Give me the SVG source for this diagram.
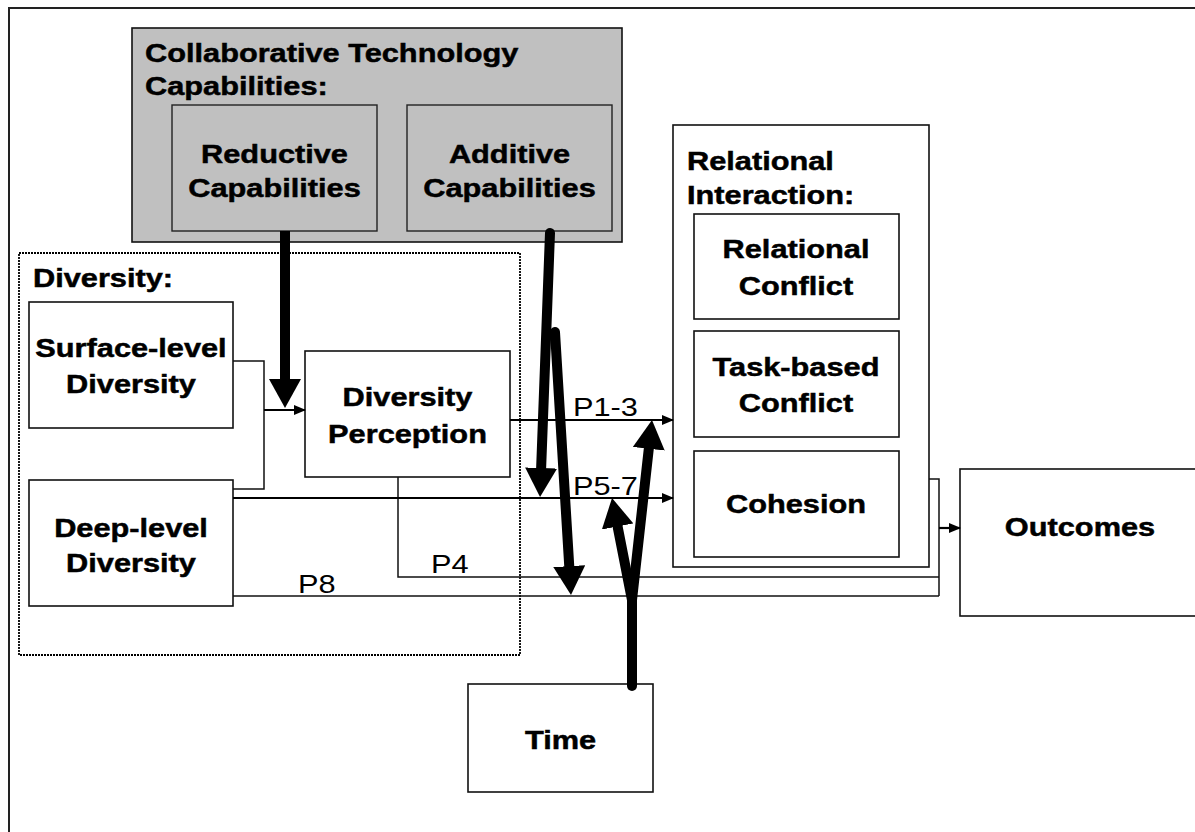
<svg xmlns="http://www.w3.org/2000/svg" width="1195" height="832" viewBox="0 0 1195 832">
  <style>
    .frame { fill: none; stroke: #222; stroke-width: 2; }
    .box { fill: #fff; stroke: #111; stroke-width: 1.6; }
    .gray { fill: #c0c0c0; stroke: #111; stroke-width: 1.6; }
    .inner { fill: #c0c0c0; stroke: #222; stroke-width: 1.4; }
    .group { fill: #fff; stroke: #111; stroke-width: 1.6; }
    .dotted { fill: none; stroke: #000; stroke-width: 1.8; stroke-dasharray: 2 1; }
    .thin { fill: none; stroke: #111; stroke-width: 1.5; }
    .link { fill: none; stroke: #000; stroke-width: 2.2; }
    .heavy { fill: none; stroke: #000; stroke-width: 10; stroke-linecap: round; }
    .b { font-family: "Liberation Sans", Arial, sans-serif; font-weight: bold; font-size: 26.5px; fill: #000; stroke: #000; stroke-width: 0.5; }
    .r { font-family: "Liberation Sans", Arial, sans-serif; font-size: 26.5px; fill: #000; }
  </style>
  <defs>
    <marker id="bigHead" markerUnits="userSpaceOnUse" viewBox="0 0 29 32" markerWidth="29" markerHeight="32" refX="1" refY="16" orient="auto">
      <path d="M0,0 L29,16 L0,32 z" fill="#000"/>
    </marker>
    <marker id="smallHead" markerUnits="userSpaceOnUse" viewBox="0 0 12 10" markerWidth="12" markerHeight="10" refX="11" refY="5" orient="auto">
      <path d="M0,0 L12,5 L0,10 z" fill="#000"/>
    </marker>
  </defs>

  <rect width="1195" height="832" fill="#fff"/>
  <rect class="frame" x="9" y="8" width="1200" height="840"/>

  <!-- technology group -->
  <g id="technology">
    <rect class="gray" x="132" y="28" width="490" height="214"/>
    <text class="b" transform="translate(145,62) scale(1.16,1)">Collaborative Technology</text>
    <text class="b" transform="translate(145,95) scale(1.16,1)">Capabilities:</text>
  </g>
  <g id="reductive">
    <rect class="inner" x="172" y="105" width="205" height="126"/>
    <text class="b" text-anchor="middle" transform="translate(274.5,163) scale(1.16,1)">Reductive</text>
    <text class="b" text-anchor="middle" transform="translate(274.5,197) scale(1.16,1)">Capabilities</text>
  </g>
  <g id="additive">
    <rect class="inner" x="407" y="105" width="205" height="126"/>
    <text class="b" text-anchor="middle" transform="translate(509.5,163) scale(1.16,1)">Additive</text>
    <text class="b" text-anchor="middle" transform="translate(509.5,197) scale(1.16,1)">Capabilities</text>
  </g>

  <!-- diversity group -->
  <g id="diversity">
    <rect class="dotted" x="19" y="253" width="501" height="402"/>
    <text class="b" transform="translate(33,287) scale(1.16,1)">Diversity:</text>
  </g>
  <g id="surface">
    <rect class="box" x="29" y="302" width="204" height="126"/>
    <text class="b" text-anchor="middle" transform="translate(131,357) scale(1.16,1)">Surface-level</text>
    <text class="b" text-anchor="middle" transform="translate(131,393) scale(1.16,1)">Diversity</text>
  </g>
  <g id="deep">
    <rect class="box" x="29" y="480" width="204" height="126"/>
    <text class="b" text-anchor="middle" transform="translate(131,537) scale(1.16,1)">Deep-level</text>
    <text class="b" text-anchor="middle" transform="translate(131,572) scale(1.16,1)">Diversity</text>
  </g>
  <g id="perception">
    <rect class="box" x="305" y="351" width="205" height="126"/>
    <text class="b" text-anchor="middle" transform="translate(407.5,406) scale(1.16,1)">Diversity</text>
    <text class="b" text-anchor="middle" transform="translate(407.5,443) scale(1.16,1)">Perception</text>
  </g>

  <!-- relational interaction group -->
  <g id="relational">
    <rect class="group" x="673" y="125" width="256" height="442"/>
    <text class="b" transform="translate(687,170) scale(1.16,1)">Relational</text>
    <text class="b" transform="translate(687,204) scale(1.16,1)">Interaction:</text>
  </g>
  <g id="relational-conflict">
    <rect class="box" x="694" y="214" width="205" height="105"/>
    <text class="b" text-anchor="middle" transform="translate(796,258) scale(1.16,1)">Relational</text>
    <text class="b" text-anchor="middle" transform="translate(796,295) scale(1.16,1)">Conflict</text>
  </g>
  <g id="task-conflict">
    <rect class="box" x="694" y="331" width="205" height="106"/>
    <text class="b" text-anchor="middle" transform="translate(796,376) scale(1.16,1)">Task-based</text>
    <text class="b" text-anchor="middle" transform="translate(796,412) scale(1.16,1)">Conflict</text>
  </g>
  <g id="cohesion">
    <rect class="box" x="694" y="451" width="205" height="106"/>
    <text class="b" text-anchor="middle" transform="translate(796,513) scale(1.16,1)">Cohesion</text>
  </g>

  <g id="outcomes">
    <rect class="box" x="960" y="469" width="260" height="147"/>
    <text class="b" text-anchor="middle" transform="translate(1080,536) scale(1.16,1)">Outcomes</text>
  </g>
  <g id="time">
    <rect class="box" x="468" y="684" width="185" height="108"/>
    <text class="b" text-anchor="middle" transform="translate(560.5,749) scale(1.16,1)">Time</text>
  </g>

  <!-- connectors -->
  <g id="connectors">
    <path class="thin" d="M233,361 H264 V489 H233"/>
    <path class="thin" d="M398,477 V577 H939"/>
    <path class="thin" d="M929,479 H939 V596"/>
    <path class="thin" d="M233,596 H939"/>
    <line class="link" x1="264" y1="410" x2="305" y2="410" marker-end="url(#smallHead)"/>
    <line class="link" x1="510" y1="420" x2="673" y2="420" marker-end="url(#smallHead)"/>
    <line class="link" x1="233" y1="498" x2="673" y2="498" marker-end="url(#smallHead)"/>
    <line class="link" x1="939" y1="528" x2="960" y2="528" marker-end="url(#smallHead)"/>

    <line class="heavy" style="stroke-linecap:butt" x1="285" y1="231" x2="285" y2="380" marker-end="url(#bigHead)"/>
    <line class="heavy" x1="550" y1="233" x2="541.1" y2="469" marker-end="url(#bigHead)"/>
    <line class="heavy" x1="555" y1="332" x2="569.3" y2="567.1" marker-end="url(#bigHead)"/>
    <line class="heavy" x1="632" y1="686" x2="632" y2="600"/>
    <line class="heavy" x1="632" y1="600" x2="648.9" y2="447.8" marker-end="url(#bigHead)"/>
    <line class="heavy" x1="632" y1="600" x2="617.4" y2="525.5" marker-end="url(#bigHead)"/>

    <text class="r" transform="translate(573,416) scale(1.16,1)">P1-3</text>
    <text class="r" transform="translate(573,495) scale(1.16,1)">P5-7</text>
    <text class="r" transform="translate(431,573) scale(1.16,1)">P4</text>
    <text class="r" transform="translate(298,593) scale(1.16,1)">P8</text>
  </g>
</svg>
